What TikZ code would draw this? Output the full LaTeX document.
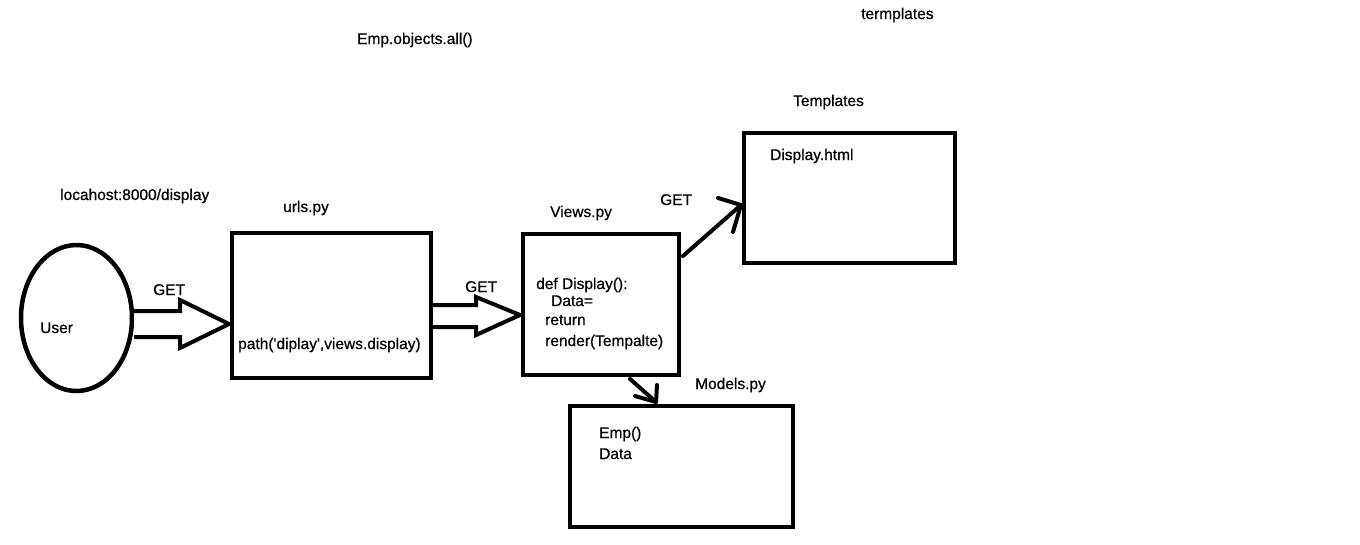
\documentclass[tikz,border=0pt]{standalone}
\usepackage{fontspec}
\setmainfont{Liberation Sans}[BoldFont=Liberation Sans,BoldFeatures={FakeBold=0.6}]
\usetikzlibrary{shapes.geometric}
\begin{document}
\begin{tikzpicture}[x=1pt,y=-1pt,
  lbl/.style={anchor=base west,inner sep=0pt,font=\fontsize{15.5}{18}\selectfont\bfseries},
  boxnode/.style={draw,line width=4pt,rectangle,inner sep=0pt},
  thick line/.style={line width=4pt,line cap=round,line join=round},
  blockarrow/.style={draw,line width=4pt,line join=miter,fill=white}]
\useasboundingbox (0,0) rectangle (1360,544);
% shapes
\node[draw,ellipse,line width=4.5pt,minimum width=111pt,minimum height=146pt,inner sep=0pt] (user) at (76.5,318) {};
\node[boxnode,minimum width=199pt,minimum height=145pt] (urls) at (331.5,305.5) {};
\node[boxnode,minimum width=156pt,minimum height=141pt] (views) at (601,304.5) {};
\node[boxnode,minimum width=211pt,minimum height=130pt] (tmpl) at (849.5,198) {};
\node[boxnode,minimum width=223pt,minimum height=121pt] (models) at (681.5,466.5) {};
% block arrows
\draw[blockarrow] (134,311) -- (180,311) -- (180,300) -- (229,324) -- (180,348) -- (180,337) -- (134,337);
\draw[blockarrow] (433,305) -- (476,305) -- (476,297) -- (520,315) -- (476,335) -- (476,327) -- (433,327);
% views -> templates
\coordinate (vt1) at (683,256);
\coordinate (vt2) at (741,205);
\draw[thick line] (vt1) -- (vt2);
\draw[thick line] (718,198) -- (vt2) -- (733,232);
% views -> models
\coordinate (vm1) at (630,379);
\coordinate (vm2) at (656,402);
\draw[thick line] (vm1) -- (vm2);
\draw[thick line] (657,385) -- (vm2) -- (635,396);
% labels
\node[lbl] (t1) at (357,44) {Emp.objects.all()};
\node[lbl] (t2) at (861,19) {termplates};
\node[lbl] (t3) at (60,200) {locahost:8000/display};
\node[lbl] (t4) at (283,212) {urls.py};
\node[lbl] (t5) at (40,333) {User};
\node[lbl] (t6) at (153,295) {GET};
\node[lbl] (t7) at (238,349) {path(\textquotesingle diplay\textquotesingle,views.display)};
\node[lbl] (t8) at (465,292) {GET};
\node[lbl] (t9) at (550,217) {Views.py};
\node[lbl] (t10) at (536,289) {def Display():};
\node[lbl] (t11) at (551,306) {Data=};
\node[lbl] (t12) at (545,325) {return};
\node[lbl] (t13) at (545,346) {render(Tempalte)};
\node[lbl] (t14) at (660,205) {GET};
\node[lbl] (t15) at (793,106) {Templates};
\node[lbl] (t16) at (770,160) {Display.html};
\node[lbl] (t17) at (695,389) {Models.py};
\node[lbl] (t18) at (599,438) {Emp()};
\node[lbl] (t19) at (599,459) {Data};
\end{tikzpicture}
\end{document}
